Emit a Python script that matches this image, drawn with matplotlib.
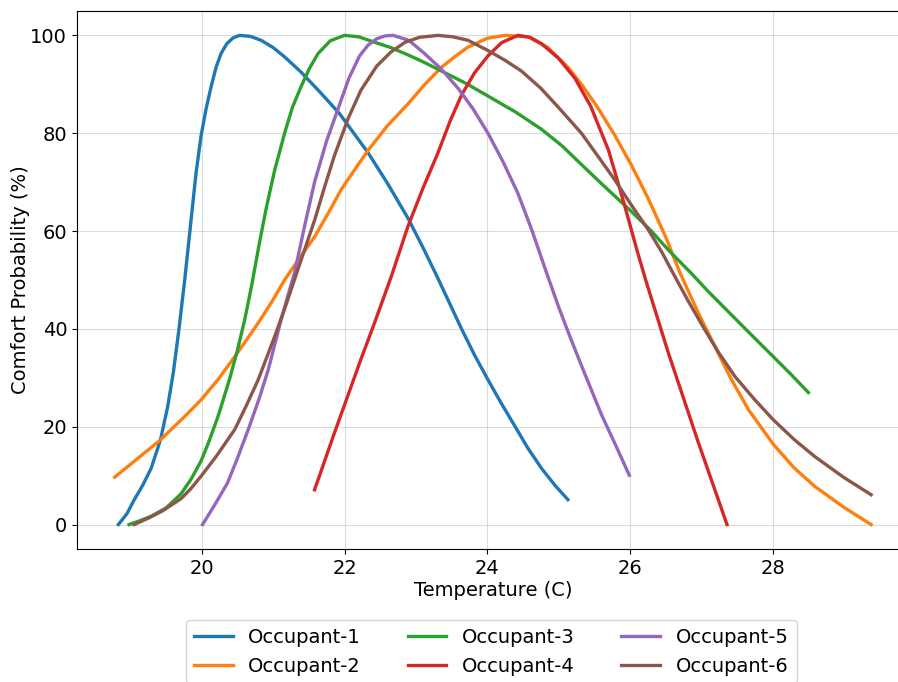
import matplotlib
matplotlib.use("Agg")
import matplotlib.pyplot as plt

# Comfort probability (%) against indoor temperature (C) for each occupant
occ1_temp = [18.83, 18.95, 19.05, 19.17, 19.29, 19.42, 19.52, 19.60, 19.68, 19.76,
             19.84, 19.92, 19.99, 20.06, 20.13, 20.20, 20.27, 20.35, 20.44, 20.53,
             20.68, 20.83, 21.00, 21.16, 21.39, 21.65, 21.93, 22.13, 22.33, 22.60,
             22.89, 23.10, 23.30, 23.47, 23.64, 23.82, 24.01, 24.20, 24.38, 24.57,
             24.76, 24.95, 25.13]
occ1_prob = [0.0, 2.2, 5.0, 8.0, 11.5, 17.3, 24.0, 31.0, 40.0, 50.0,
             61.0, 72.0, 79.5, 85.0, 89.5, 93.5, 96.3, 98.3, 99.5, 100.0,
             99.8, 99.0, 97.5, 95.6, 92.5, 88.5, 84.0, 80.0, 76.0, 69.8,
             62.6, 56.6, 50.6, 45.3, 40.0, 34.7, 29.6, 24.7, 20.3, 15.6,
             11.5, 8.0, 5.1]

occ2_temp = [18.78, 19.05, 19.42, 19.76, 19.99, 20.23, 20.46, 20.62, 20.79, 20.98,
             21.16, 21.37, 21.58, 21.77, 21.95, 22.14, 22.33, 22.60, 22.89, 23.12,
             23.36, 23.55, 23.73, 24.00, 24.25, 24.57, 24.85, 25.13, 25.32, 25.55,
             25.79, 26.02, 26.26, 26.50, 26.70, 26.95, 27.19, 27.42, 27.66, 28.01,
             28.30, 28.59, 29.00, 29.38]
occ2_prob = [9.7, 12.9, 17.3, 22.1, 25.5, 29.7, 34.3, 37.6, 41.2, 45.5,
             50.0, 54.5, 58.8, 63.6, 68.4, 72.5, 76.5, 81.5, 86.0, 89.9,
             93.5, 95.7, 97.6, 99.4, 100.0, 99.7, 97.5, 93.5, 90.0, 85.2,
             79.5, 73.5, 66.5, 58.8, 51.5, 43.5, 36.4, 29.7, 23.5, 16.4,
             11.6, 7.8, 3.5, 0.0]

occ3_temp = [18.98, 19.10, 19.29, 19.50, 19.71, 19.85, 19.99, 20.10, 20.22, 20.30,
             20.39, 20.50, 20.60, 20.70, 20.80, 20.90, 21.02, 21.16, 21.27, 21.39,
             21.51, 21.63, 21.80, 22.00, 22.20, 22.42, 22.65, 22.89, 23.10, 23.36,
             23.70, 24.01, 24.40, 24.76, 25.05, 25.32, 25.60, 26.02, 26.30, 26.54,
             26.85, 27.10, 27.40, 27.70, 28.01, 28.25, 28.50]
occ3_prob = [0.0, 0.6, 1.7, 3.4, 6.3, 9.3, 13.0, 17.0, 21.8, 25.5,
             29.8, 35.7, 41.8, 49.0, 57.0, 64.5, 72.4, 80.0, 85.3, 89.5,
             93.3, 96.3, 98.9, 100.0, 99.7, 98.6, 97.5, 96.0, 94.6, 92.7,
             90.2, 87.6, 84.3, 80.8, 77.4, 73.6, 69.7, 64.0, 60.0, 56.1,
             51.5, 47.6, 43.2, 38.8, 34.3, 30.8, 27.0]

occ4_temp = [21.58, 21.86, 22.05, 22.23, 22.42, 22.65, 22.89, 23.10, 23.31, 23.48,
             23.64, 23.82, 24.01, 24.20, 24.43, 24.60, 24.76, 25.00, 25.23, 25.45,
             25.70, 25.92, 26.10, 26.22, 26.54, 26.96, 27.36]
occ4_prob = [7.1, 18.8, 26.5, 33.8, 41.2, 50.5, 61.0, 68.8, 76.0, 82.5,
             87.8, 92.3, 95.8, 98.5, 100.0, 99.6, 98.3, 95.3, 91.2, 85.5,
             76.5, 65.5, 56.0, 50.0, 35.0, 16.7, 0.0]

occ5_temp = [20.01, 20.18, 20.36, 20.50, 20.65, 20.80, 20.93, 21.11, 21.20, 21.30,
             21.44, 21.58, 21.75, 21.91, 22.06, 22.21, 22.33, 22.45, 22.57, 22.68,
             22.90, 23.12, 23.35, 23.59, 23.80, 24.01, 24.22, 24.43, 24.63, 24.83,
             25.00, 25.13, 25.32, 25.46, 25.60, 25.80, 25.99]
occ5_prob = [0.0, 4.0, 8.5, 13.6, 19.4, 25.6, 31.6, 41.8, 46.5, 51.5,
             61.0, 70.0, 78.5, 85.0, 91.2, 95.8, 98.0, 99.3, 99.9, 100.0,
             99.0, 96.3, 93.2, 89.2, 85.0, 80.0, 74.2, 67.7, 60.0, 51.5,
             44.5, 39.5, 32.5, 27.5, 22.5, 16.2, 10.1]

occ6_temp = [19.05, 19.25, 19.45, 19.71, 19.85, 19.99, 20.20, 20.46, 20.62, 20.79,
             21.02, 21.17, 21.32, 21.45, 21.58, 21.72, 21.86, 22.05, 22.23, 22.45,
             22.65, 22.85, 23.05, 23.31, 23.52, 23.73, 24.01, 24.25, 24.48, 24.75,
             24.99, 25.32, 25.60, 25.79, 26.02, 26.26, 26.45, 26.60, 26.82, 27.05,
             27.25, 27.47, 27.75, 28.01, 28.30, 28.59, 29.00, 29.38]
occ6_prob = [0.0, 1.3, 2.8, 5.3, 7.4, 9.9, 13.9, 19.4, 24.2, 29.6,
             38.4, 44.5, 51.0, 56.6, 62.2, 69.0, 75.5, 83.0, 88.8, 93.7,
             96.6, 98.6, 99.6, 100.0, 99.7, 99.0, 96.9, 94.9, 92.7, 89.2,
             85.4, 80.0, 74.3, 70.4, 65.3, 60.2, 55.6, 51.5, 45.6, 39.8,
             35.0, 30.3, 25.5, 21.4, 17.4, 13.9, 9.6, 6.1]

labels = [f"Occupant-{i}" for i in range(1, 7)]
temps = [occ1_temp, occ2_temp, occ3_temp, occ4_temp, occ5_temp, occ6_temp]
probs = [occ1_prob, occ2_prob, occ3_prob, occ4_prob, occ5_prob, occ6_prob]

plt.rcParams["font.size"] = 14

fig = plt.figure(figsize=(8.98, 6.82), dpi=100)
ax = fig.add_axes([0.0857, 0.195, 0.9265, 0.789])

for t, p, name in zip(temps, probs, labels):
    ax.plot(t, p, linewidth=2.4, label=name)

ax.set_xlabel("Temperature (C)", labelpad=2)
ax.set_ylabel("Comfort Probability (%)", labelpad=0)
ax.set_xticks([20, 22, 24, 26, 28])
ax.set_yticks([0, 20, 40, 60, 80, 100])
ax.grid(True, alpha=0.45)
ax.set_axisbelow(True)

fig.legend(loc="upper center", bbox_to_anchor=(0.547, 0.105), ncol=3,
           fontsize=14, handlelength=2.0, columnspacing=2.4)

fig.savefig("out.png", dpi=100)
